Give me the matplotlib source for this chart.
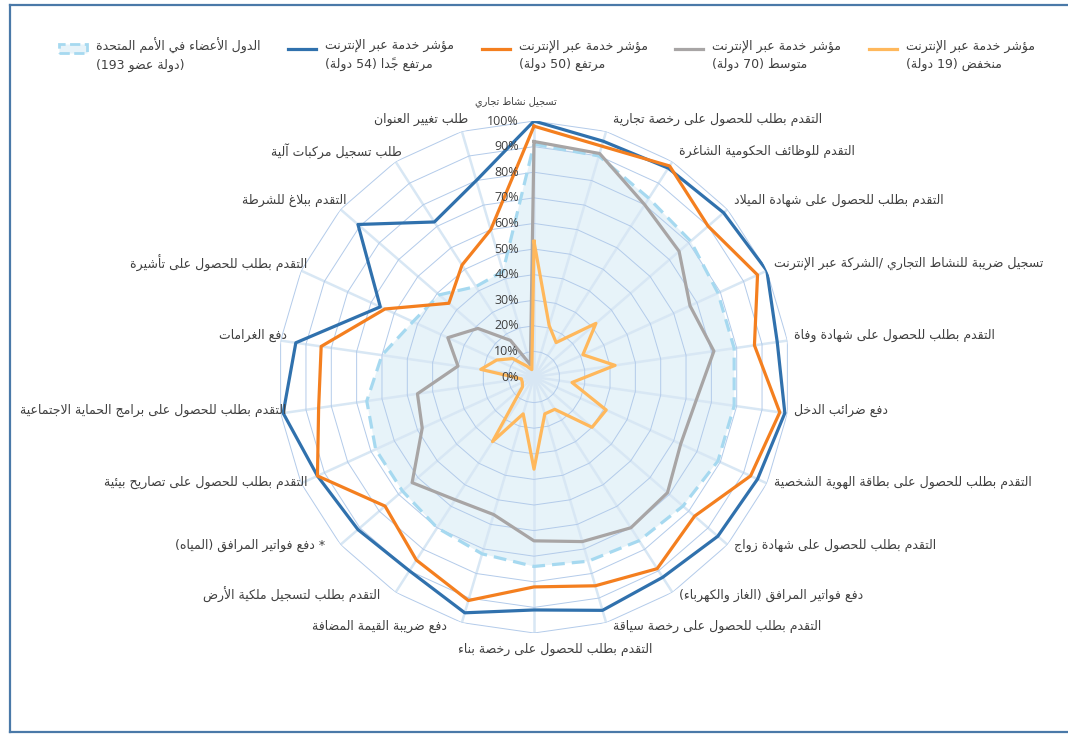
import unicodedata
import numpy as np
import matplotlib
matplotlib.use('Agg')
import matplotlib.pyplot as plt
from matplotlib.lines import Line2D
from matplotlib.patches import Patch
from matplotlib.legend_handler import HandlerLine2D, HandlerPatch

# categories, clockwise from the top
categories = [
    'تسجيل نشاط تجاري',
    'التقدم بطلب للحصول على رخصة تجارية',
    'التقدم للوظائف الحكومية الشاغرة',
    'التقدم بطلب للحصول على شهادة الميلاد',
    'تسجيل ضريبة للنشاط التجاري /الشركة عبر الإنترنت',
    'التقدم بطلب للحصول على شهادة وفاة',
    'دفع ضرائب الدخل',
    'التقدم بطلب للحصول على بطاقة الهوية الشخصية',
    'التقدم بطلب للحصول على شهادة زواج',
    'دفع فواتير المرافق (الغاز والكهرباء)',
    'التقدم بطلب للحصول على رخصة سياقة',
    'التقدم بطلب للحصول على رخصة بناء',
    'دفع ضريبة القيمة المضافة',
    'التقدم بطلب لتسجيل ملكية الأرض',
    '* دفع فواتير المرافق (المياه)',
    'التقدم بطلب للحصول على تصاريح بيئية',
    'التقدم بطلب للحصول على برامج الحماية الاجتماعية',
    'دفع الغرامات',
    'التقدم بطلب للحصول على تأشيرة',
    'التقدم ببلاغ للشرطة',
    'طلب تسجيل مركبات آلية',
    'طلب تغيير العنوان',
]

# percent of countries offering each service online
very_high = [100, 96, 97, 98, 100, 96, 99, 96, 95, 93, 95, 91, 96, 90, 91, 93, 99, 94, 66, 91, 72, 80]
high = [98, 94, 98, 90, 96, 87, 97, 93, 83, 89, 85, 82, 91, 85, 77, 93, 85, 84, 64, 44, 52, 60]
medium = [92, 91, 80, 75, 67, 71, 64, 63, 69, 70, 67, 64, 56, 57, 63, 48, 46, 30, 37, 29, 17, 5]
low = [53, 21, 16, 32, 21, 32, 15, 31, 30, 15, 15, 36, 15, 30, 6, 5, 5, 21, 16, 11, 5, 3]
un_members = [91, 90, 83, 81, 79, 79, 79, 79, 77, 76, 75, 74, 72, 70, 68, 68, 66, 60, 52, 49, 42, 43]

r_ticks = [0, 10, 20, 30, 40, 50, 60, 70, 80, 90, 100]

legend_labels = [
    ('الدول الأعضاء في الأمم المتحدة', '(دولة عضو 193)'),
    ('مؤشر خدمة عبر الإنترنت', 'مرتفع جدًا (54 دولة)'),
    ('مؤشر خدمة عبر الإنترنت', 'مرتفع (50 دولة)'),
    ('مؤشر خدمة عبر الإنترنت', 'متوسط (70 دولة)'),
    ('مؤشر خدمة عبر الإنترنت', 'منخفض (19 دولة)'),
]

BLUE = '#3071ad'
ORANGE = '#f47f1f'
GRAY = '#a8a5a5'
YELLOW = '#ffb85c'
UN_LINE = '#a6d9f0'
UN_FILL = '#e7f3f9'
RING = '#b3cbea'
SPOKE = '#d8e7f4'
TEXT = '#404040'

# matplotlib has no arabic shaping / bidi, so do a small version here
_FORMS = {
    'ء': (0xFE80, 1), 'آ': (0xFE81, 2), 'أ': (0xFE83, 2), 'ؤ': (0xFE85, 2),
    'إ': (0xFE87, 2), 'ئ': (0xFE89, 4), 'ا': (0xFE8D, 2), 'ب': (0xFE8F, 4),
    'ة': (0xFE93, 2), 'ت': (0xFE95, 4), 'ث': (0xFE99, 4), 'ج': (0xFE9D, 4),
    'ح': (0xFEA1, 4), 'خ': (0xFEA5, 4), 'د': (0xFEA9, 2), 'ذ': (0xFEAB, 2),
    'ر': (0xFEAD, 2), 'ز': (0xFEAF, 2), 'س': (0xFEB1, 4), 'ش': (0xFEB5, 4),
    'ص': (0xFEB9, 4), 'ض': (0xFEBD, 4), 'ط': (0xFEC1, 4), 'ظ': (0xFEC5, 4),
    'ع': (0xFEC9, 4), 'غ': (0xFECD, 4), 'ف': (0xFED1, 4), 'ق': (0xFED5, 4),
    'ك': (0xFED9, 4), 'ل': (0xFEDD, 4), 'م': (0xFEE1, 4), 'ن': (0xFEE5, 4),
    'ه': (0xFEE9, 4), 'و': (0xFEED, 2), 'ى': (0xFEEF, 2), 'ي': (0xFEF1, 4),
}
_LAM_ALEF = {'آ': 0xFEF5, 'أ': 0xFEF7, 'إ': 0xFEF9, 'ا': 0xFEFB}


def shape(text):
    chars = list(text)
    n = len(chars)

    def neighbour(i, step):
        j = i + step
        while 0 <= j < n and unicodedata.combining(chars[j]):
            j += step
        return chars[j] if 0 <= j < n else ''

    out = []
    i = 0
    while i < n:
        c = chars[i]
        if c not in _FORMS:
            out.append(c)
            i += 1
            continue
        joins_prev = _FORMS.get(neighbour(i, -1), (0, 1))[1] == 4
        nxt = neighbour(i, 1)
        if c == 'ل' and nxt in _LAM_ALEF:
            out.append(chr(_LAM_ALEF[nxt] + int(joins_prev)))
            i += 2
            continue
        joins_next = nxt in _FORMS and nxt != 'ء'
        start, forms = _FORMS[c]
        if forms == 1:
            k = 0
        elif forms == 2:
            k = 1 if joins_prev else 0
        elif joins_prev and joins_next:
            k = 3
        elif joins_prev:
            k = 1
        elif joins_next:
            k = 2
        else:
            k = 0
        out.append(chr(start + k))
        i += 1
    return ''.join(out)


def rtl(text):
    s = shape(text)
    runs = []
    i = 0
    while i < len(s):
        j = i + 1
        if s[i].isdigit():
            while j < len(s) and s[j].isdigit():
                j += 1
        else:
            while j < len(s) and unicodedata.combining(s[j]):
                j += 1
        runs.append(s[i:j])
        i = j
    mirror = {'(': ')', ')': '('}
    return ''.join(mirror.get(r, r) for r in reversed(runs))


# legend keys sit level with the first text line, not the middle
class RaisedLine(HandlerLine2D):
    def create_artists(self, *args, **kwargs):
        arts = super().create_artists(*args, **kwargs)
        for a in arts:
            a.set_ydata(np.asarray(a.get_ydata()) + 5)
        return arts


class RaisedPatch(HandlerPatch):
    def create_artists(self, *args, **kwargs):
        arts = super().create_artists(*args, **kwargs)
        for a in arts:
            a.set_y(a.get_y() + 5)
        return arts


plt.rcParams['font.family'] = ['DejaVu Sans']

fig = plt.figure(figsize=(10.68, 7.34), dpi=100)
ax = fig.add_axes([0.2603, 0.1376, 0.4794, 0.6975], projection='polar')
ax.set_theta_zero_location('N')
ax.set_theta_direction(-1)
ax.set_ylim(0, 100)
ax.grid(False)
ax.set_xticks([])
ax.set_yticks([])
ax.spines['polar'].set_visible(False)
ax.patch.set_alpha(0)

n = len(categories)
theta = np.linspace(0, 2 * np.pi, n, endpoint=False)
closed = np.append(theta, theta[0])


def close(vals):
    return np.append(vals, vals[0])


# polygon grid
ax.fill(closed, close(un_members), color=UN_FILL, lw=0, zorder=0.5)
for t in theta:
    ax.plot([t, t], [0, r_ticks[-1]], color=SPOKE, lw=1.8, zorder=1)
for r in r_ticks[1:]:
    ax.plot(closed, np.full(len(closed), r), color=RING, lw=0.7, zorder=1.1)

ax.plot(closed, close(un_members), color=UN_LINE, lw=2.3, dashes=(4, 2.2), zorder=2)
ax.plot(closed, close(very_high), color=BLUE, lw=2.3, zorder=3)
ax.plot(closed, close(high), color=ORANGE, lw=2.3, zorder=3.1)
ax.plot(closed, close(medium), color=GRAY, lw=2.3, zorder=3.2)
ax.plot(closed, close(low), color=YELLOW, lw=2.3, zorder=3.3)

for v in r_ticks:
    ax.annotate(f'{v}%', xy=(0, v), xytext=(-15, 0), textcoords='offset pixels',
                ha='right', va='center', fontsize=9, color=TEXT,
                family='Open Sans', annotation_clip=False, zorder=5)

# category labels around the outer ring
for i, (t, lab) in enumerate(zip(theta, categories)):
    s, c = np.sin(t), np.cos(t)
    size = 9
    if i == 0:
        ha, dx, dy, size = 'center', -18, 20, 7
    elif abs(s) < 1e-6:
        ha, dx, dy = 'center', 21, -16
    elif s > 0:
        ha, dx, dy = 'left', 7, 4 + 8 * c
    else:
        ha, dx, dy = 'right', (6 if c > -0.6 else -15), 4 + 8 * c
    ax.annotate(rtl(lab), xy=(t, r_ticks[-1]), xytext=(dx, dy),
                textcoords='offset pixels', ha=ha, va='center',
                fontsize=size, color=TEXT, annotation_clip=False)

handles = [Patch(facecolor=UN_FILL, edgecolor=UN_LINE, linestyle='--', linewidth=2),
           Line2D([], [], color=BLUE, lw=2.3),
           Line2D([], [], color=ORANGE, lw=2.3),
           Line2D([], [], color=GRAY, lw=2.3),
           Line2D([], [], color=YELLOW, lw=2.3)]
labels = [rtl(a) + '\n' + rtl(b) for a, b in legend_labels]
leg = fig.legend(handles, labels, ncol=5, loc='center', bbox_to_anchor=(0.512, 0.925),
                 frameon=False, fontsize=9, handlelength=2.25, handletextpad=0.72,
                 columnspacing=2.2, labelcolor=TEXT,
                 handler_map={Line2D: RaisedLine(), Patch: RaisedPatch()})
for txt in leg.get_texts():
    txt.set_linespacing(1.45)

# frame
frame = dict(color='#4a79a8', lw=1.6, transform=fig.transFigure)
fig.add_artist(Line2D([0.009, 1.0], [0.9935, 0.9935], **frame))
fig.add_artist(Line2D([0.009, 0.009], [0.003, 0.9935], **frame))
fig.add_artist(Line2D([0.009, 1.0], [0.003, 0.003], **frame))

fig.savefig('out.png', dpi=100)
